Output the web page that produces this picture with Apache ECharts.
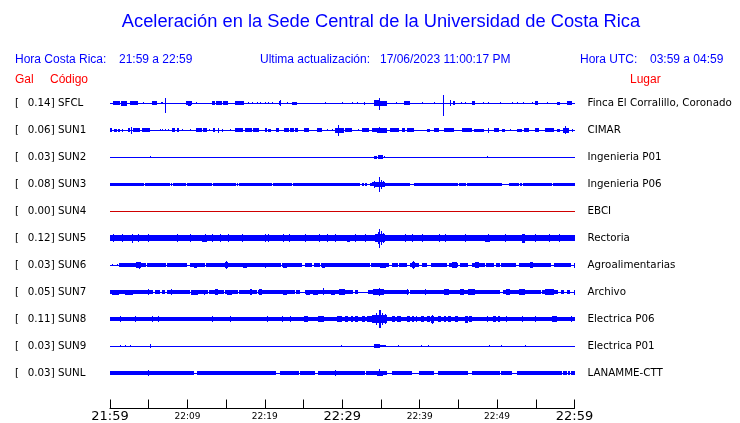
<!DOCTYPE html>
<html>
<head>
<meta charset="utf-8">
<script src="https://cdn.jsdelivr.net/npm/echarts@6/dist/echarts.min.js"></script>
<style>
  html, body { margin: 0; padding: 0; background: #ffffff; }
  #chart { width: 740px; height: 423px; }
</style>
</head>
<body>
<div id="chart"></div>
<script>
// ---------- DATA ----------
const stationCodes = ['SFCL','SUN1','SUN2','SUN3','SUN4','SUN5','SUN6','SUN7','SUN8','SUN9','SUNL'];
const galValues = ['0.14','0.06','0.03','0.08','0.00','0.12','0.03','0.05','0.11','0.03','0.03'];
const locations = ['Finca El Corralillo, Coronado','CIMAR','Ingenieria P01','Ingenieria P06','EBCI','Rectoria','Agroalimentarias','Archivo','Electrica P06','Electrica P01','LANAMME-CTT'];
// time axis: minutes after 21:59 (hora Costa Rica)
const xTickLabels = ['21:59','','22:09','','22:19','','22:29','','22:39','','22:49','','22:59'];
const majorTickLabels = ['21:59','22:29','22:59'];
// envelope amplitudes in units of 1/27 of the trace spacing
const baseAmp = [0, 0, 0, 1.5, 0, 2.7, 2.0, 1.8, 2.0, 0, 2.0];

const gaps_SUN3 = [[4.45,4.55],[7.7,7.85],[8.0,8.15],[9.85,9.95],[11.45,11.55],[13.2,13.3],[16.3,16.4],[16.5,16.6],[18.3,18.4],[20.9,21.0],[23.5,23.6],[26.3,26.4],[32.33,32.6],[32.8,33.0],[33.2,33.6],[38.8,39.22],[45.0,45.1],[46.0,46.1],[47.1,47.2],[48.9,49.0],[50.64,51.5],[52.8,52.9],[53.2,53.3],[57.1,57.2]];
const gaps_SUN6 = [[0,1.2],[4.7,4.8],[7.25,7.35],[9.9,10.3],[12.25,12.35],[17.0,17.1],[20.5,20.6],[22.15,22.25],[24.8,25.2],[26.1,26.3],[27.15,27.25],[31.85,31.95],[33.55,33.65],[36.0,36.4],[37.25,37.35],[38.4,38.8],[39.9,40.3],[41.0,41.4],[43.5,43.75],[45.0,45.2],[46.3,46.8],[48.45,48.55],[49.6,49.8],[50.4,50.5],[52.4,52.8],[57.0,57.3],[59.5,59.9]];
const gaps_SUN7 = [[5.6,5.8],[6.5,6.7],[7.1,7.3],[10.3,10.45],[12.6,12.75],[14.7,14.8],[16.5,16.7],[19.0,19.1],[23.9,24.0],[24.6,25.2],[25.6,25.7],[31.4,31.6],[32.0,33.3],[38.6,38.7],[40.0,40.1],[43.5,43.6],[46.6,46.7],[50.4,50.8],[51.5,51.6],[55.7,55.8],[57.9,58.3],[58.6,59.0],[59.4,59.9]];
const gaps_SUNL = [[10.8,11.2],[16.6,16.7],[21.5,22.0],[24.4,24.6],[26.5,26.9],[33.0,33.1],[35.8,36.4],[39.0,39.9],[41.8,42.4],[46.3,46.8],[49.55,49.65],[50.4,50.5],[51.9,52.6],[57.05,57.15],[58.35,58.45],[59.0,59.1],[59.45,59.55]];

// bursts: [start min, end min, amplitude up, amplitude down (optional)]
const bursts_SFCL = [[0.43,1.29,2],[1.42,2.16,2.5],[2.59,3.66,2],[4.3,4.4,1],[5.39,6.03,2],[6.59,6.81,1],[7.12,7.2,5.3,9.3],[9.83,10.56,2],[10.1,10.4,2.5],[11.08,11.21,1],[13.15,13.58,2],[13.71,14.44,2],[14.65,15.3,2],[16.16,17.37,2],[17.8,17.9,1],[18.3,18.4,1],[18.95,19.05,1],[19.4,19.5,1],[20.0,20.1,1],[20.45,20.55,1],[20.9,21.0,1],[21.77,22.11,2],[21.95,22.05,2.8],[22.85,22.95,1],[23.49,24.14,1.3],[27.8,27.9,1],[29.95,30.05,1],[31.2,31.3,1],[31.85,31.95,1],[32.76,32.97,1.3],[34.05,34.7,2.8],[34.75,34.85,5.3,6.7],[34.91,35.77,2.5],[37.0,37.1,1],[37.93,38.79,2],[40.3,40.4,1],[41.8,41.9,1],[42.97,43.1,8.3,12.7],[43.9,44.0,3],[44.3,44.5,2],[45.4,45.5,1],[45.85,45.95,1],[46.76,47.11,2],[48.2,48.3,1],[48.85,48.95,1],[50.4,50.5,1],[51.9,52.0,1],[52.55,52.65,1],[53.4,53.5,1],[54.5,54.6,1],[54.95,55.3,2],[56.45,56.55,1],[57.75,58.19,1.3],[59.05,59.69,2]];
const bursts_SUN1 = [[0,0.3,2],[0.56,0.86,1.3],[1.08,1.29,1.3],[1.51,1.72,1.3],[2.37,2.59,2],[2.68,2.76,3.7],[3.02,3.88,2],[4.09,5.17,2],[6.47,6.55,1],[6.68,6.76,1],[7.11,7.19,1],[7.54,7.62,1],[7.97,8.40,2],[8.62,8.92,2],[9.27,9.35,1],[10.34,10.42,1],[11.08,11.85,2.2],[12.07,12.50,2],[12.80,12.88,1],[13.36,13.58,2],[13.98,14.06,2.5],[14.44,14.65,1.3],[15.52,15.6,1],[16.16,17.24,2],[17.46,18.32,2],[18.53,19.27,2],[19.96,20.26,2],[20.47,20.82,1.3],[21.42,21.77,2],[22.50,23.06,2],[23.27,23.71,2],[23.92,24.27,2],[25.08,25.73,2],[26.72,27.37,2],[28.0,28.08,1],[28.66,28.74,1],[29.09,30.17,2.5],[29.5,29.58,5.3],[30.30,31.25,2],[31.98,32.06,1],[32.54,33.40,2],[33.83,34.48,2],[34.48,35.77,2.5],[34.8,34.88,3],[36.20,37.28,2],[37.71,38.14,2],[38.36,39.22,2.2],[40.95,41.38,1.3],[41.81,42.45,2],[43.10,44.39,2],[45.47,46.76,2],[46.98,48.27,1.3],[48.88,48.96,2.5],[49.57,50.21,2],[50.64,51.07,1.3],[51.72,51.8,1],[52.58,53.23,1.3],[53.44,54.09,2],[54.95,55.38,2],[56.25,57.32,2],[57.75,58.19,1.3],[58.49,59.26,2.5],[58.8,58.9,4.7,4],[59.69,59.77,1.3]];
const bursts_SUN2 = [[5.15,5.23,1],[34.05,34.48,1.3],[34.61,35.21,2.2],[35.34,35.56,1],[48.75,48.83,1]];
const bursts_SUN3 = [[32.7,32.8,1.5],[33.1,33.2,1.5],[33.83,34.05,2],[34.05,35.56,2.5],[34.1,34.2,3.5],[34.75,34.87,7.3,7.7],[35.0,35.1,4.5],[35.3,35.4,3]];
const bursts_SUN4 = [];
const bursts_SUN5 = [[0.43,0.5,4],[1.51,1.58,4],[2.8,2.88,4,4.7],[3.66,3.74,4],[4.96,5.04,4],[8.62,8.7,4],[10.34,10.42,4],[11.85,12.5,3.5],[12.3,12.38,4.3],[13.15,13.23,4],[14.22,14.3,4],[15.3,15.38,4],[17.02,17.1,4],[20.04,20.12,4],[20.47,20.55,4],[22.41,22.49,4],[23.06,23.14,4],[25.21,25.29,4],[26.94,27.02,4],[28.02,28.1,4],[29.09,29.17,4],[30.6,31.0,3.5],[31.68,31.76,4],[32.97,33.05,4],[34.26,35.56,4],[34.6,34.7,6],[34.75,34.87,9.3,10.3],[35.0,35.1,7],[35.3,35.4,5],[38.14,38.22,4],[39.01,39.09,4],[40.3,40.38,4],[42.45,42.53,4],[43.32,43.4,4],[45.9,45.98,4],[48.5,49.1,3.5],[48.8,48.88,4.3],[51.07,51.15,4],[53.23,53.57,4.5],[54.95,55.03,4],[56.68,56.76,4],[57.97,58.05,4]];
const bursts_SUN6 = [[0.2,0.3,1.3],[0.9,1.0,1.3],[3.4,4.0,2.7],[3.8,3.9,3.5],[10.8,11.2,2.5],[14.9,15.2,2.7],[15.0,15.1,3.7],[17.2,17.7,2.5],[20.0,20.1,2.5],[22.4,22.8,2.5],[27.4,27.8,2.5],[34.9,35.6,2.5],[39.0,39.4,2.7],[39.2,39.3,3.7],[44.2,44.8,2.7],[47.2,47.6,2.7],[54.3,54.7,2.7],[59.9,60,2.5]];
const bursts_SUN7 = [[0.2,1.1,2.5],[1.9,3.0,2.5],[4.9,5.0,2.7],[7.9,8.0,3.3],[10.5,11.4,2.5],[12.2,12.3,2.5],[13.5,14.0,3],[15.1,15.7,2.5],[18.1,18.3,2.7],[19.2,19.6,2.7],[22.4,22.8,2.5],[25.3,25.8,2.5],[26.2,26.9,2.5],[27.55,27.65,4.3,3],[28.6,29.1,2.5],[29.6,30.4,3],[34.0,35.4,3.3],[34.75,34.87,4.3,4],[38.3,38.4,2.7],[40.7,40.8,2.7],[43.1,43.75,3],[45.2,45.7,2.7],[46.3,47.2,2.7],[51.1,51.7,2.7],[52.8,53.6,2.7],[56.2,57.3,3],[59.95,60,2.5]];
const bursts_SUN8 = [[1.29,1.37,3],[3.23,3.31,3],[5.39,5.47,3],[6.25,6.33,3],[13.15,13.23,3],[15.52,15.6,3],[20.26,20.34,3],[22.2,22.28,3],[23.27,23.35,3],[25.0,25.6,3],[26.9,27.6,2.7],[29.3,30.0,3],[30.4,30.8,2.7],[31.1,31.4,2.7],[31.7,32.0,2.7],[32.5,32.9,3],[33.2,33.8,3.3],[33.8,35.8,4],[34.3,34.5,6],[34.75,34.95,9.3,9],[35.1,35.3,6],[35.5,35.6,5],[36.4,36.8,3],[37.1,37.6,3],[38.4,38.8,3],[39.0,39.3,3.3],[39.5,39.7,2.7],[40.2,40.6,3],[40.9,41.3,3.3],[41.5,41.9,3.5],[41.6,41.7,4.5],[42.4,42.8,3],[43.1,43.4,3],[43.7,44.1,3],[44.5,45.0,3],[45.9,46.2,3.5],[46.4,46.8,3],[48.7,48.8,3],[49.5,49.9,3],[50.1,50.4,3],[51.2,51.3,3],[53.2,53.3,3.3],[54.95,55.05,3],[57.1,57.7,3],[59.6,59.7,3]];
const bursts_SUN9 = [[1.25,1.33,1.3],[1.9,1.98,1],[2.55,2.63,1.3],[5.15,5.23,1.7],[29.8,29.88,1.3],[34.05,34.82,2],[34.82,35.2,1.3],[35.2,35.6,1],[37.2,37.28,1],[40.2,40.28,1],[41.1,41.18,1],[48.9,48.98,1],[50.55,50.63,1],[53.55,53.63,1]];
const bursts_SUNL = [[4.85,4.95,3],[29.05,29.15,2.7],[34.5,35.3,2.5],[34.78,34.86,4.3,3.3]];

// ---------- BUILD ----------
const gapsByStation = {SUN3: gaps_SUN3, SUN6: gaps_SUN6, SUN7: gaps_SUN7, SUNL: gaps_SUNL};
const burstsByStation = {SFCL: bursts_SFCL, SUN1: bursts_SUN1, SUN2: bursts_SUN2, SUN3: bursts_SUN3, SUN4: bursts_SUN4, SUN5: bursts_SUN5, SUN6: bursts_SUN6, SUN7: bursts_SUN7, SUN8: bursts_SUN8, SUN9: bursts_SUN9, SUNL: bursts_SUNL};
const T_MIN = 0, T_MAX = 60, AMP_PER_ROW = 27;

function bandSegments(base, gaps) {
  if (!base) return [];
  const segs = [];
  let cur = T_MIN;
  (gaps || []).slice().sort((a, b) => a[0] - b[0]).forEach(g => {
    if (g[0] > cur) segs.push([cur, g[0]]);
    cur = Math.max(cur, g[1]);
  });
  if (cur < T_MAX) segs.push([cur, T_MAX]);
  return segs.map(s => [s[0], s[1], base, base]);
}

function makeRender(row, color) {
  return function (params, api) {
    const t0 = api.value(0), t1 = api.value(1), up = api.value(2), dn = api.value(3);
    const p0 = api.coord([t0, row]);
    const p1 = api.coord([t1, row]);
    const k = api.size([0, 1])[1] / AMP_PER_ROW;
    const x0 = Math.round(p0[0]);
    let x1 = Math.round(p1[0]);
    if (x1 - x0 < 1) x1 = x0 + 1;
    const top = Math.round(p0[1] - up * k);
    let bot = Math.round(p0[1] + dn * k);
    if (bot - top < 1) bot = top + 1;
    return { type: 'rect', shape: { x: x0, y: top, width: x1 - x0, height: bot - top }, style: { fill: color } };
  };
}

const series = stationCodes.map((code, i) => {
  const color = parseFloat(galValues[i]) === 0 ? '#d00000' : '#0000ff';
  const items = [[T_MIN, T_MAX, 0.5, 0.5]]
    .concat(bandSegments(baseAmp[i], gapsByStation[code]))
    .concat(burstsByStation[code].map(b => [b[0], b[1], b[2], b.length > 3 ? b[3] : b[2]]))
    .map(d => d.concat([i]));
  return {
    type: 'custom', name: code, xAxisIndex: 0, yAxisIndex: 0,
    renderItem: makeRender(i, color), data: items,
    encode: { x: [0, 1], y: 4 }, silent: true, clip: false, animation: false
  };
});

const BLUE = '#0000ff', RED = '#ff0000';
const headFont = '12px "Liberation Sans", Arial, sans-serif';
function txt(x, y, text, fill, font, align) {
  return { type: 'text', x: x, y: y, silent: true,
    style: { text: text, fill: fill, font: font || headFont, align: align || 'left', verticalAlign: 'middle' } };
}

const chart = echarts.init(document.getElementById('chart'), null, { renderer: 'canvas' });
chart.setOption({
  animation: false,
  backgroundColor: '#ffffff',
  grid: { left: 110, top: 89.8, width: 464.5, height: 297.3, containLabel: false },
  xAxis: {
    type: 'value', min: T_MIN, max: T_MAX, interval: 5, offset: 22,
    axisLine: { show: true, lineStyle: { color: '#000', width: 1 } },
    axisTick: { show: true, inside: true, length: 9, lineStyle: { color: '#000', width: 1 } },
    splitLine: { show: false },
    axisLabel: {
      margin: 1, showMinLabel: true, showMaxLabel: true,
      formatter: function (v) {
        const lab = xTickLabels[Math.round(v / 5)] || '';
        if (!lab) return '';
        return majorTickLabels.indexOf(lab) >= 0 ? '{big|' + lab + '}' : '{small|' + lab + '}';
      },
      rich: {
        big: { fontFamily: 'DejaVu Sans', fontSize: 13, color: '#000', lineHeight: 14 },
        small: { fontFamily: 'DejaVu Sans', fontSize: 9, color: '#000', lineHeight: 14 }
      }
    }
  },
  yAxis: [
    {
      type: 'category', data: stationCodes, inverse: true, position: 'left',
      axisLine: { show: false }, axisTick: { show: false }, splitLine: { show: false },
      axisLabel: {
        align: 'left', margin: 95,
        formatter: function (v, idx) { return '{b|[}{v|' + galValues[idx] + '] ' + v + '}'; },
        rich: {
          b: { fontFamily: 'DejaVu Sans', fontSize: 10.3, color: '#000', width: 12.7 },
          v: { fontFamily: 'DejaVu Sans', fontSize: 10.3, color: '#000' }
        }
      }
    },
    {
      type: 'category', data: stationCodes, inverse: true, position: 'right',
      axisLine: { show: false }, axisTick: { show: false }, splitLine: { show: false },
      axisLabel: {
        margin: 13, fontFamily: 'DejaVu Sans', fontSize: 10.3, color: '#000',
        formatter: function (v, idx) { return locations[idx]; }
      }
    }
  ],
  graphic: [
    txt(381, 22, 'Aceleración en la Sede Central de la Universidad de Costa Rica', BLUE, '18.3px "Liberation Sans", Arial, sans-serif', 'center'),
    txt(15, 60, 'Hora Costa Rica:', BLUE),
    txt(119, 60, '21:59 a 22:59', BLUE),
    txt(260, 60, 'Ultima actualización:', BLUE),
    txt(380, 60, '17/06/2023 11:00:17 PM', BLUE),
    txt(580, 60, 'Hora UTC:', BLUE),
    txt(650, 60, '03:59 a 04:59', BLUE),
    txt(15, 80, 'Gal', RED),
    txt(50, 80, 'Código', RED),
    txt(630, 80, 'Lugar', RED)
  ],
  series: series
});
</script>
</body>
</html>
